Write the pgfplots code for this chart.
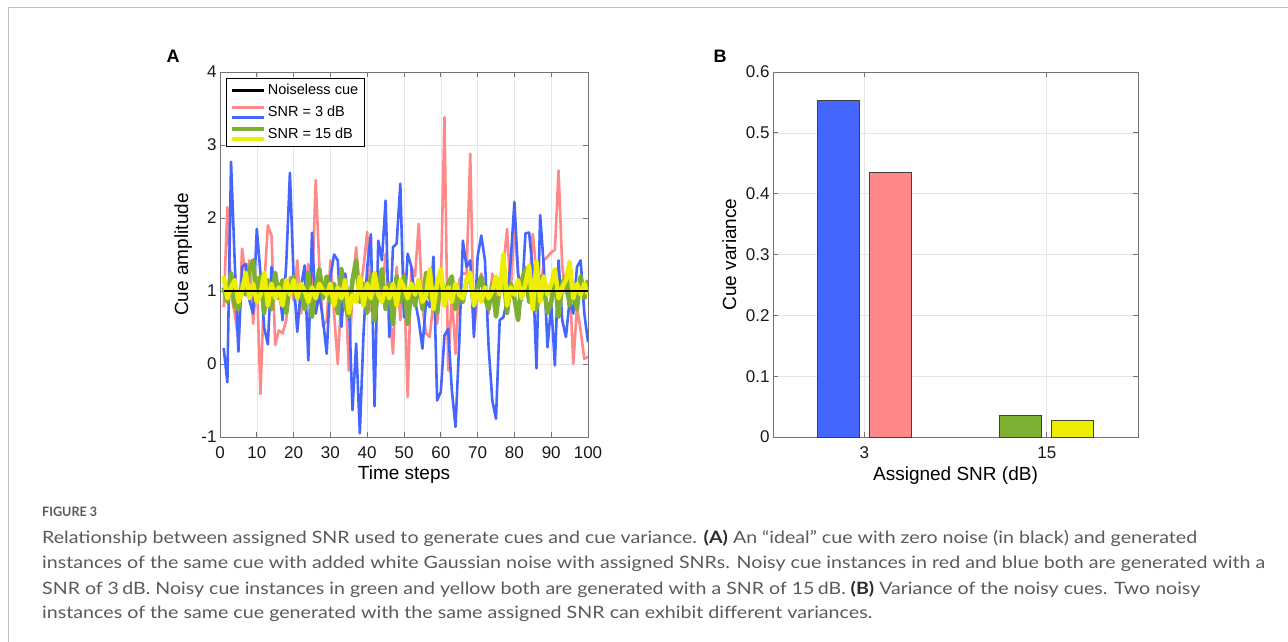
\documentclass[border=0pt]{standalone}
\usepackage{fontspec}
\setmainfont{Liberation Sans}
\newfontfamily\capfont{Lato}
\usepackage{graphicx}
\usepackage{pgfplots}
\usepackage{pgfplotstable}
\pgfplotsset{compat=1.18}

\definecolor{cblue}{RGB}{68,102,255}
\definecolor{cred}{RGB}{255,136,136}
\definecolor{cgreen}{RGB}{125,176,50}
\definecolor{cyellow}{RGB}{238,238,0}
\definecolor{capgray}{RGB}{90,90,90}
\definecolor{capdark}{RGB}{45,45,45}

\pgfplotstableread{
x red blue green yellow
1 0.78 0.22 1.05 1.20
2 2.15 -0.25 0.85 0.90
3 0.96 2.77 1.25 1.05
4 0.69 1.40 0.80 1.15
5 0.32 0.17 0.75 0.85
6 1.58 1.33 1.10 1.00
7 1.19 1.37 0.95 1.25
8 1.42 0.87 1.30 0.90
9 0.55 0.69 1.42 1.10
10 1.19 1.85 0.85 0.85
11 -0.41 1.24 1.20 0.95
12 1.05 0.50 0.70 1.25
13 1.90 0.27 1.15 0.80
14 1.76 1.33 0.75 1.10
15 0.26 0.96 1.25 0.90
16 0.46 1.10 0.90 1.05
17 0.42 0.60 1.15 0.80
18 0.60 1.37 0.70 1.15
19 1.19 2.62 1.10 0.95
20 0.87 1.19 1.20 1.15
21 1.42 0.44 0.90 0.90
22 0.69 1.05 1.00 1.10
23 1.05 1.35 0.75 1.00
24 1.37 0.05 1.25 0.85
25 0.96 1.80 0.65 1.05
26 2.52 0.69 1.05 0.90
27 1.33 0.96 1.30 1.10
28 0.51 0.60 0.90 1.00
29 0.60 0.14 1.20 0.95
30 1.42 1.19 0.85 1.10
31 0.69 1.50 1.10 0.80
32 0.00 1.42 0.70 1.05
33 0.96 0.51 1.30 0.90
34 1.19 1.24 0.80 1.15
35 -0.09 0.90 0.65 0.70
36 1.00 -0.63 1.15 0.95
37 1.60 0.28 1.42 0.85
38 0.96 -0.95 0.85 1.20
39 1.33 0.42 1.10 0.80
40 1.81 1.33 0.70 1.10
41 0.73 1.78 1.20 0.90
42 1.15 -0.58 0.60 1.25
43 1.28 1.69 1.05 0.95
44 0.96 1.42 1.30 0.85
45 1.51 2.24 0.75 1.05
46 0.78 0.37 1.10 0.90
47 0.14 1.60 0.55 1.10
48 1.33 1.65 1.20 0.80
49 0.60 2.47 0.85 1.15
50 1.25 0.64 1.20 1.05
51 -0.45 1.51 0.55 0.90
52 1.33 1.33 1.05 1.10
53 1.20 0.87 0.80 0.95
54 1.92 0.60 1.15 1.15
55 0.78 0.21 0.75 0.85
56 0.42 0.87 1.25 0.95
57 0.37 0.78 0.90 1.30
58 0.87 1.47 1.05 0.75
59 0.55 -0.50 0.70 1.10
60 1.05 -0.38 1.25 1.30
61 3.38 0.39 0.85 0.80
62 -0.09 0.48 1.10 1.05
63 0.96 -0.36 1.20 0.85
64 0.14 -0.86 0.75 1.10
65 1.15 0.28 1.00 0.95
66 1.24 1.69 0.85 0.90
67 1.24 1.33 1.15 1.15
68 2.88 1.42 1.20 1.25
69 0.42 0.37 0.80 0.80
70 0.96 1.47 1.05 1.00
71 1.24 1.76 1.20 0.85
72 0.96 1.42 0.90 1.05
73 0.69 0.23 0.75 0.90
74 1.24 -0.50 1.10 1.00
75 0.96 -0.75 0.65 1.20
76 1.00 0.60 1.05 0.95
77 1.33 0.64 1.25 1.50
78 1.85 0.87 0.70 0.80
79 0.96 1.42 1.10 1.05
80 1.92 2.22 0.90 0.95
81 1.24 1.24 0.60 1.15
82 0.96 0.87 1.15 0.90
83 1.33 1.79 1.30 1.10
84 1.05 1.80 0.85 1.35
85 1.78 1.28 1.10 0.75
86 1.24 -0.06 0.75 1.40
87 0.96 2.04 1.20 0.85
88 1.42 1.33 1.05 1.20
89 1.47 0.23 0.70 0.95
90 1.53 0.83 0.85 1.10
91 1.56 -0.02 1.20 1.30
92 2.65 1.42 0.65 0.90
93 1.33 0.60 1.10 1.05
94 0.96 0.37 1.20 1.15
95 1.15 0.87 0.80 1.40
96 0.00 0.69 1.05 0.90
97 0.78 1.33 0.75 1.10
98 0.46 1.42 1.20 0.95
99 0.07 0.69 0.90 1.10
100 0.10 0.30 1.15 0.95
}\cues

\pgfplotsset{
  matlab/.style={
    scale only axis,
    axis line style={draw=black!55, line width=0.7pt},
    tick style={draw=black!55, line width=0.7pt},
    major tick length=5pt,
    tick align=inside,
    grid=major,
    grid style={black!10, line width=0.6pt},
    tick label style={font=\fontsize{17}{19}\selectfont, text=black!90},
    xticklabel style={yshift=-6pt},
    label style={font=\fontsize{19}{22}\selectfont},
    /pgf/number format/assume math mode=true,
  }
}

\begin{document}
\begin{tikzpicture}[x=1pt,y=1pt]
\useasboundingbox (0,0) rectangle (1288,641);
\draw[black!25, line width=1pt] (8,-5) -- (8,633) -- (1295,633);

% Panel A
\begin{axis}[matlab,
  at={(220pt,204pt)}, anchor=south west,
  width=368pt, height=365pt,
  xmin=0, xmax=100, ymin=-1, ymax=4,
  xtick={0,10,...,100}, ytick={-1,0,1,2,3,4},
  xlabel={Time steps}, ylabel={Cue amplitude},
  xlabel style={at={(axis description cs:0.5,-0.104)}, anchor=center},
  ylabel style={at={(axis description cs:-0.1,0.5)}, anchor=center, rotate=0},
  legend style={at={(0.016,0.984)}, anchor=north west, draw=black, line width=0.8pt,
     fill=white, font=\fontsize{14.5}{16}\selectfont, inner xsep=4pt, inner ysep=4pt,
     row sep=6pt},
  legend cell align=left,
]
\addlegendimage{legend image code/.code={\draw[black,line width=2.8pt] (0pt,0pt) -- (32pt,0pt);}}
\addlegendentry{Noiseless cue}
\addlegendimage{legend image code/.code={\draw[cred,line width=2.8pt] (0pt,5pt) -- (32pt,5pt);\draw[cblue,line width=2.8pt] (0pt,-5pt) -- (32pt,-5pt);}}
\addlegendentry{SNR = 3 dB}
\addlegendimage{legend image code/.code={\draw[cgreen,line width=3.6pt] (0pt,5pt) -- (32pt,5pt);\draw[cyellow,line width=3.6pt] (0pt,-5pt) -- (32pt,-5pt);}}
\addlegendentry{SNR = 15 dB}

\addplot[forget plot, cred, line width=2.6pt, line join=round] table[x=x, y=red] {\cues};
\addplot[forget plot, cblue, line width=2.6pt, line join=round] table[x=x, y=blue] {\cues};
\addplot[forget plot, cgreen, line width=4.5pt, line join=round] table[x=x, y=green] {\cues};
\addplot[forget plot, cyellow, line width=4.5pt, line join=round] table[x=x, y=yellow] {\cues};
\addplot[forget plot, black, line width=2.8pt] coordinates {(1,1) (100,1)};
\end{axis}

% Panel B
\begin{axis}[matlab,
  at={(773pt,204pt)}, anchor=south west,
  width=365pt, height=365pt,
  xmin=0.5, xmax=2.5, ymin=0, ymax=0.6,
  xtick={1,2}, xticklabels={3,15},
  ytick={0,0.1,0.2,0.3,0.4,0.5,0.6},
  yticklabel style={/pgf/number format/fixed},
  xlabel={Assigned SNR (dB)}, ylabel={Cue variance},
  xlabel style={at={(axis description cs:0.5,-0.107)}, anchor=center},
  ylabel style={at={(axis description cs:-0.12,0.5)}, anchor=center},
]
\addplot[ybar, bar width=0.23, bar shift=0pt, fill=cblue, draw=black!75, line width=0.8pt] coordinates {(0.857,0.553)};
\addplot[ybar, bar width=0.23, bar shift=0pt, fill=cred, draw=black!75, line width=0.8pt] coordinates {(1.143,0.435)};
\addplot[ybar, bar width=0.23, bar shift=0pt, fill=cgreen, draw=black!75, line width=0.8pt] coordinates {(1.857,0.035)};
\addplot[ybar, bar width=0.23, bar shift=0pt, fill=cyellow, draw=black!75, line width=0.8pt] coordinates {(2.143,0.027)};
\end{axis}

\node[font=\fontsize{18}{20}\selectfont\bfseries] at (173,585) {A};
\node[font=\fontsize{18}{20}\selectfont\bfseries] at (720,585) {B};

% Caption
\begin{scope}[every node/.style={anchor=west, inner sep=0pt, text=capgray, font=\capfont\fontsize{17}{20}\selectfont}]
\node[font=\capfont\bfseries\fontsize{13}{15}\selectfont] at (42,129) {\resizebox{55pt}{\height}{FIGURE 3}};
\node at (42,103) {\resizebox{1155pt}{\height}{Relationship between assigned SNR used to generate cues and cue variance. \textcolor{capdark}{\bfseries(A)} An “ideal” cue with zero noise (in black) and generated}};
\node at (42,77) {\resizebox{1223pt}{\height}{instances of the same cue with added white Gaussian noise with assigned SNRs. Noisy cue instances in red and blue both are generated with a}};
\node at (42,52) {\resizebox{1158pt}{\height}{SNR of 3\,dB. Noisy cue instances in green and yellow both are generated with a SNR of 15\,dB. \textcolor{capdark}{\bfseries(B)} Variance of the noisy cues. Two noisy}};
\node at (42,27) {\resizebox{830pt}{\height}{instances of the same cue generated with the same assigned SNR can exhibit different variances.}};
\end{scope}
\end{tikzpicture}
\end{document}
